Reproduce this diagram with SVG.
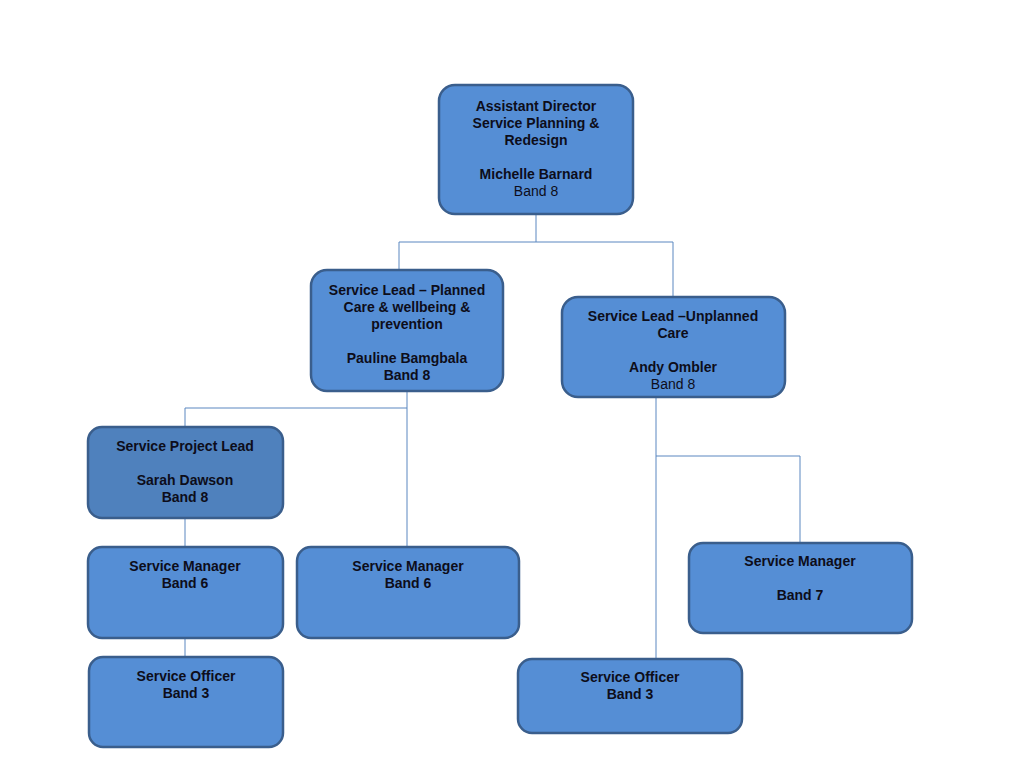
<svg xmlns="http://www.w3.org/2000/svg" width="1024" height="768" viewBox="0 0 1024 768">
<style>
.box{fill:#558ED5;stroke:#3A5E8C;stroke-width:2.5}
.dark{fill:#4F81BD}
.conn{fill:none;stroke:#5B87C0;stroke-width:1}
text{font-family:"Liberation Sans",Arial,sans-serif;font-size:14px;fill:#0D0D1A;text-anchor:middle}
.b{font-weight:bold}
</style>
<rect width="1024" height="768" fill="#FFFFFF"/>
<g id="connectors">
<path class="conn" d="M536,214 V242 M399,242 H673 M399,242 V270 M673,242 V297"/>
<path class="conn" d="M407,391 V547 M185,408 H407 M185,408 V427 M185,518 V547 M185,638 V657"/>
<path class="conn" d="M656,397 V659 M656,456 H800 V543"/>
</g>
<g id="n-director">
<rect class="box" x="439" y="85" width="194" height="129" rx="16"/>
<text x="536" y="111" class="b">Assistant Director</text>
<text x="536" y="128" class="b">Service Planning &amp;</text>
<text x="536" y="145" class="b">Redesign</text>
<text x="536" y="179" class="b">Michelle Barnard</text>
<text x="536" y="196">Band 8</text>
</g>
<g id="n-planned">
<rect class="box" x="311" y="270" width="192" height="121" rx="16"/>
<text x="407" y="295" class="b">Service Lead – Planned</text>
<text x="407" y="312" class="b">Care &amp; wellbeing &amp;</text>
<text x="407" y="329" class="b">prevention</text>
<text x="407" y="363" class="b">Pauline Bamgbala</text>
<text x="407" y="380" class="b">Band 8</text>
</g>
<g id="n-unplanned">
<rect class="box" x="562" y="297" width="223" height="100" rx="16"/>
<text x="673" y="321" class="b">Service Lead –Unplanned</text>
<text x="673" y="338" class="b">Care</text>
<text x="673" y="372" class="b">Andy Ombler</text>
<text x="673" y="389">Band 8</text>
</g>
<g id="n-project-lead">
<rect class="box dark" x="88" y="427" width="195" height="91" rx="14"/>
<text x="185" y="451" class="b">Service Project Lead</text>
<text x="185" y="485" class="b">Sarah Dawson</text>
<text x="185" y="502" class="b">Band 8</text>
</g>
<g id="n-manager-6a">
<rect class="box" x="88" y="547" width="195" height="91" rx="14"/>
<text x="185" y="571" class="b">Service Manager</text>
<text x="185" y="588" class="b">Band 6</text>
</g>
<g id="n-officer-a">
<rect class="box" x="89" y="657" width="194" height="90" rx="14"/>
<text x="186" y="681" class="b">Service Officer</text>
<text x="186" y="698" class="b">Band 3</text>
</g>
<g id="n-manager-6b">
<rect class="box" x="297" y="547" width="222" height="91" rx="14"/>
<text x="408" y="571" class="b">Service Manager</text>
<text x="408" y="588" class="b">Band 6</text>
</g>
<g id="n-manager-7">
<rect class="box" x="689" y="543" width="223" height="90" rx="14"/>
<text x="800" y="566" class="b">Service Manager</text>
<text x="800" y="600" class="b">Band 7</text>
</g>
<g id="n-officer-b">
<rect class="box" x="518" y="659" width="224" height="74" rx="14"/>
<text x="630" y="682" class="b">Service Officer</text>
<text x="630" y="699" class="b">Band 3</text>
</g>
</svg>
